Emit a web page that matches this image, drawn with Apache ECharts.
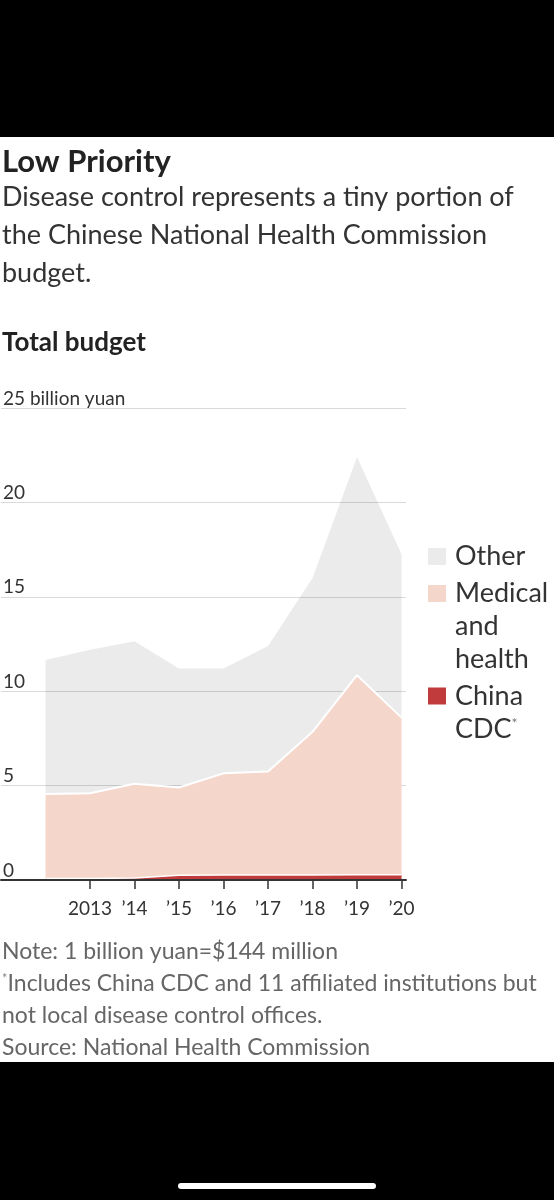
<!DOCTYPE html>
<html>
<head>
<meta charset="utf-8">
<script src="https://cdn.jsdelivr.net/npm/echarts@6/dist/echarts.min.js"></script>
<style>
  html, body { margin: 0; padding: 0; background: #000; width: 554px; height: 1200px; overflow: hidden; }
  #chart { position: absolute; left: 0; top: 137px; width: 554px; height: 925px; background: #fff; }
  #home { position: absolute; left: 178px; top: 1183px; width: 198px; height: 6px; border-radius: 3px; background: #fff; }
</style>
</head>
<body>
<div id="chart"></div>
<div id="home"></div>
<script>
// ---- data (billion yuan) ----
const years = [2012, 2013, 2014, 2015, 2016, 2017, 2018, 2019, 2020];
const chinaCDC = [0.08, 0.08, 0.10, 0.25, 0.27, 0.27, 0.27, 0.28, 0.28];
const medicalHealth = [4.47, 4.52, 5.00, 4.65, 5.38, 5.48, 7.58, 10.57, 8.32];
const other = [7.10, 7.60, 7.55, 6.30, 5.55, 6.65, 8.15, 11.55, 8.65];
const tickYears = [2013, 2014, 2015, 2016, 2017, 2018, 2019, 2020];
const tickLabels = ['2013', '\u201914', '\u201915', '\u201916', '\u201917', '\u201918', '\u201919', '\u201920'];
const yTicks = [0, 5, 10, 15, 20, 25];
const yTickLabels = ['0', '5', '10', '15', '20', '25 billion yuan'];

// rows are [value, year]; encode maps column 1 to x and column 0 to y so the stack is on the values
const rows = arr => years.map((y, i) => [arr[i], y]);

const FONT = 'Lato';
const chart = echarts.init(document.getElementById('chart'), null, { renderer: 'canvas' });

const legendText = { fontFamily: FONT, fontSize: 27, color: '#333', lineHeight: 33 };

const option = {
  backgroundColor: '#fff',
  animation: false,
  textStyle: { fontFamily: FONT },
  title: [
    { text: 'Low Priority', left: 2, top: 7, padding: 0,
      textStyle: { fontFamily: FONT, fontSize: 31, fontWeight: 'bold', color: '#222', lineHeight: 36 } },
    { text: 'Disease control represents a tiny portion of\nthe Chinese National Health Commission\nbudget.',
      left: 2, top: 41, padding: 0,
      textStyle: { fontFamily: FONT, fontSize: 27, fontWeight: 'normal', color: '#333', lineHeight: 38 } },
    { text: 'Total budget', left: 2, top: 191, padding: 0,
      textStyle: { fontFamily: FONT, fontSize: 26, fontWeight: 'bold', color: '#222', lineHeight: 30 } },
    { text: 'Note: 1 billion yuan=$144 million\n{s|*}Includes China CDC and 11 affiliated institutions but\nnot local disease control offices.\nSource: National Health Commission',
      left: 2, top: 799, padding: 0,
      textStyle: { fontFamily: FONT, fontSize: 23, fontWeight: 'normal', color: '#666', lineHeight: 32,
        rich: { s: { fontFamily: FONT, fontSize: 13, color: '#888', lineHeight: 32, padding: [0, 0, 10, 0] } } } }
  ],
  legend: [
    { data: ['Other'], left: 428, top: 403, orient: 'vertical', padding: 0, selectedMode: false,
      icon: 'rect', itemWidth: 18, itemHeight: 17,
      formatter: () => '{t|Other}',
      textStyle: Object.assign({}, legendText, { padding: [0, 0, 0, 4], rich: { t: legendText } }) },
    { data: ['Medical and health'], left: 428, top: 374, orient: 'vertical', padding: 0, selectedMode: false,
      icon: 'rect', itemWidth: 18, itemHeight: 17,
      formatter: () => '{t|Medical}\n{t|and}\n{t|health}',
      textStyle: Object.assign({}, legendText, { padding: [66, 0, 0, 4], rich: { t: legendText } }) },
    { data: ['China CDC'], left: 428, top: 509.5, orient: 'vertical', padding: 0, selectedMode: false,
      icon: 'rect', itemWidth: 18, itemHeight: 17,
      formatter: () => '{t|China}\n{t|CDC}{s|*}',
      textStyle: Object.assign({}, legendText, { padding: [33, 0, 0, 4],
        rich: { t: legendText, s: { fontFamily: FONT, fontSize: 14, color: '#777', lineHeight: 33, padding: [0, 0, 12, 0] } } }) }
  ],
  grid: { left: 0, right: 148, top: 271, bottom: 182, containLabel: false },
  xAxis: {
    type: 'value', min: 2011, max: 2020.1, z: 5,
    axisLine: { show: true, onZero: true, lineStyle: { color: '#333', width: 2 } },
    axisTick: { show: true, customValues: tickYears, length: 9, lineStyle: { color: '#333', width: 1.5 } },
    axisLabel: { customValues: tickYears, fontFamily: FONT, fontSize: 19, color: '#333', margin: 19,
      formatter: v => tickLabels[tickYears.indexOf(Math.round(v))] },
    splitLine: { show: false }
  },
  yAxis: {
    type: 'value', min: 0, max: 25, interval: 5,
    axisLine: { show: false }, axisTick: { show: false },
    splitLine: { show: true, lineStyle: { color: '#d9d9d9', width: 1 } },
    axisLabel: { inside: true, margin: 2, align: 'left', verticalAlign: 'bottom', padding: [0, 0, 0, 0],
      fontFamily: FONT, fontSize: 19, color: '#333',
      formatter: v => yTickLabels[yTicks.indexOf(v)] }
  },
  series: [
    { name: 'China CDC', type: 'line', stack: 'total', z: 4, symbol: 'none', data: rows(chinaCDC),
      encode: { x: 1, y: 0 },
      color: '#c23b3c',
      lineStyle: { color: '#fff', width: 1.5 },
      areaStyle: { color: '#c23b3c', opacity: 1 } },
    { name: 'Medical and health', type: 'line', stack: 'total', z: 3, symbol: 'none', data: rows(medicalHealth),
      encode: { x: 1, y: 0 },
      color: '#f5d6cb',
      lineStyle: { color: '#fff', width: 2 },
      areaStyle: { color: '#f5d6cb', opacity: 1 } },
    { name: 'Other', type: 'line', stack: 'total', z: 2, symbol: 'none', data: rows(other),
      encode: { x: 1, y: 0 },
      color: '#ebebeb',
      lineStyle: { width: 0, opacity: 0 },
      areaStyle: { color: 'rgba(0,0,0,0.08)', opacity: 1 } }
  ]
};
chart.setOption(option);
</script>
</body>
</html>
